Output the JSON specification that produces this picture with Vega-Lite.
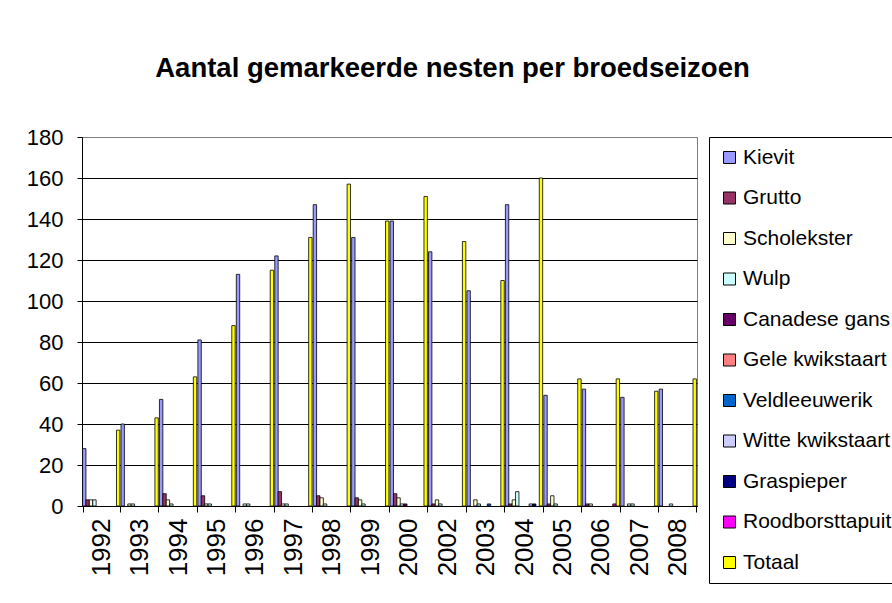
{
  "$schema": "https://vega.github.io/schema/vega-lite/v6.json",
  "autosize": {"type": "none"},
  "width": 615,
  "height": 369,
  "padding": {"left": 82, "top": 137, "right": 195, "bottom": 97},
  "background": "white",
  "title": {
    "text": "Aantal gemarkeerde nesten per broedseizoen",
    "font": "Liberation Sans",
    "fontSize": 27.5,
    "fontWeight": "bold",
    "color": "black",
    "anchor": "middle",
    "dx": 63,
    "offset": 44
  },
  "config": {
    "view": {"stroke": "#808080", "strokeWidth": 1},
    "font": "Liberation Sans"
  },
  "data": {
    "values": [
      {"jaar": "1992", "soort": "Kievit", "aantal": 28},
      {"jaar": "1992", "soort": "Grutto", "aantal": 3},
      {"jaar": "1992", "soort": "Scholekster", "aantal": 3},
      {"jaar": "1992", "soort": "Wulp", "aantal": 3},
      {"jaar": "1992", "soort": "Totaal", "aantal": 37},
      {"jaar": "1993", "soort": "Kievit", "aantal": 40},
      {"jaar": "1993", "soort": "Scholekster", "aantal": 1},
      {"jaar": "1993", "soort": "Wulp", "aantal": 1},
      {"jaar": "1993", "soort": "Totaal", "aantal": 43},
      {"jaar": "1994", "soort": "Kievit", "aantal": 52},
      {"jaar": "1994", "soort": "Grutto", "aantal": 6},
      {"jaar": "1994", "soort": "Scholekster", "aantal": 3},
      {"jaar": "1994", "soort": "Wulp", "aantal": 1},
      {"jaar": "1994", "soort": "Totaal", "aantal": 63},
      {"jaar": "1995", "soort": "Kievit", "aantal": 81},
      {"jaar": "1995", "soort": "Grutto", "aantal": 5},
      {"jaar": "1995", "soort": "Scholekster", "aantal": 1},
      {"jaar": "1995", "soort": "Wulp", "aantal": 1},
      {"jaar": "1995", "soort": "Totaal", "aantal": 88},
      {"jaar": "1996", "soort": "Kievit", "aantal": 113},
      {"jaar": "1996", "soort": "Scholekster", "aantal": 1},
      {"jaar": "1996", "soort": "Wulp", "aantal": 1},
      {"jaar": "1996", "soort": "Totaal", "aantal": 115},
      {"jaar": "1997", "soort": "Kievit", "aantal": 122},
      {"jaar": "1997", "soort": "Grutto", "aantal": 7},
      {"jaar": "1997", "soort": "Scholekster", "aantal": 1},
      {"jaar": "1997", "soort": "Wulp", "aantal": 1},
      {"jaar": "1997", "soort": "Totaal", "aantal": 131},
      {"jaar": "1998", "soort": "Kievit", "aantal": 147},
      {"jaar": "1998", "soort": "Grutto", "aantal": 5},
      {"jaar": "1998", "soort": "Scholekster", "aantal": 4},
      {"jaar": "1998", "soort": "Wulp", "aantal": 1},
      {"jaar": "1998", "soort": "Totaal", "aantal": 157},
      {"jaar": "1999", "soort": "Kievit", "aantal": 131},
      {"jaar": "1999", "soort": "Grutto", "aantal": 4},
      {"jaar": "1999", "soort": "Scholekster", "aantal": 3},
      {"jaar": "1999", "soort": "Wulp", "aantal": 1},
      {"jaar": "1999", "soort": "Totaal", "aantal": 139},
      {"jaar": "2000", "soort": "Kievit", "aantal": 139},
      {"jaar": "2000", "soort": "Grutto", "aantal": 6},
      {"jaar": "2000", "soort": "Scholekster", "aantal": 4},
      {"jaar": "2000", "soort": "Wulp", "aantal": 1},
      {"jaar": "2000", "soort": "Canadese gans", "aantal": 1},
      {"jaar": "2000", "soort": "Totaal", "aantal": 151},
      {"jaar": "2002", "soort": "Kievit", "aantal": 124},
      {"jaar": "2002", "soort": "Grutto", "aantal": 1},
      {"jaar": "2002", "soort": "Scholekster", "aantal": 3},
      {"jaar": "2002", "soort": "Wulp", "aantal": 1},
      {"jaar": "2002", "soort": "Totaal", "aantal": 129},
      {"jaar": "2003", "soort": "Kievit", "aantal": 105},
      {"jaar": "2003", "soort": "Scholekster", "aantal": 3},
      {"jaar": "2003", "soort": "Wulp", "aantal": 1},
      {"jaar": "2003", "soort": "Veldleeuwerik", "aantal": 1},
      {"jaar": "2003", "soort": "Totaal", "aantal": 110},
      {"jaar": "2004", "soort": "Kievit", "aantal": 147},
      {"jaar": "2004", "soort": "Grutto", "aantal": 1},
      {"jaar": "2004", "soort": "Scholekster", "aantal": 3},
      {"jaar": "2004", "soort": "Wulp", "aantal": 7},
      {"jaar": "2004", "soort": "Witte kwikstaart", "aantal": 1},
      {"jaar": "2004", "soort": "Graspieper", "aantal": 1},
      {"jaar": "2004", "soort": "Totaal", "aantal": 160},
      {"jaar": "2005", "soort": "Kievit", "aantal": 54},
      {"jaar": "2005", "soort": "Grutto", "aantal": 1},
      {"jaar": "2005", "soort": "Scholekster", "aantal": 5},
      {"jaar": "2005", "soort": "Wulp", "aantal": 1},
      {"jaar": "2005", "soort": "Totaal", "aantal": 62},
      {"jaar": "2006", "soort": "Kievit", "aantal": 57},
      {"jaar": "2006", "soort": "Grutto", "aantal": 1},
      {"jaar": "2006", "soort": "Scholekster", "aantal": 1},
      {"jaar": "2006", "soort": "Roodborsttapuit", "aantal": 1},
      {"jaar": "2006", "soort": "Totaal", "aantal": 62},
      {"jaar": "2007", "soort": "Kievit", "aantal": 53},
      {"jaar": "2007", "soort": "Scholekster", "aantal": 1},
      {"jaar": "2007", "soort": "Wulp", "aantal": 1},
      {"jaar": "2007", "soort": "Totaal", "aantal": 56},
      {"jaar": "2008", "soort": "Kievit", "aantal": 57},
      {"jaar": "2008", "soort": "Wulp", "aantal": 1},
      {"jaar": "2008", "soort": "Totaal", "aantal": 62}
    ]
  },
  "mark": {"type": "bar", "stroke": "black", "strokeWidth": 0.8},
  "encoding": {
    "x": {
      "field": "jaar",
      "type": "nominal",
      "scale": {
        "domain": ["1992","1993","1994","1995","1996","1997","1998","1999","2000","2002","2003","2004","2005","2006","2007","2008"],
        "paddingInner": 0.03,
        "paddingOuter": 0.015
      },
      "axis": {
        "title": null,
        "labelAngle": 270,
        "labelFontSize": 26,
        "labelColor": "black",
        "labelFont": "Liberation Sans",
        "labelPadding": 6,
        "tickSize": 6,
        "tickColor": "black",
        "tickBand": "extent",
        "domainColor": "black",
        "grid": false
      }
    },
    "xOffset": {
      "field": "soort",
      "type": "nominal",
      "scale": {
        "domain": ["Kievit","Grutto","Scholekster","Wulp","Canadese gans","Gele kwikstaart","Veldleeuwerik","Witte kwikstaart","Graspieper","Roodborsttapuit","Totaal"],
        "paddingInner": 0,
        "paddingOuter": 0
      }
    },
    "y": {
      "field": "aantal",
      "type": "quantitative",
      "scale": {"domain": [0, 180], "nice": false},
      "axis": {
        "title": null,
        "values": [0,20,40,60,80,100,120,140,160,180],
        "labelFontSize": 22,
        "labelColor": "black",
        "labelFont": "Liberation Sans",
        "labelPadding": 14,
        "tickSize": 5,
        "tickColor": "black",
        "domainColor": "black",
        "grid": true,
        "gridColor": {"condition": {"test": "datum.value === 180", "value": "#808080"}, "value": "black"},
        "gridWidth": 1
      }
    },
    "color": {
      "field": "soort",
      "type": "nominal",
      "scale": {
        "domain": ["Kievit","Grutto","Scholekster","Wulp","Canadese gans","Gele kwikstaart","Veldleeuwerik","Witte kwikstaart","Graspieper","Roodborsttapuit","Totaal"],
        "range": ["#9999FF","#993366","#FFFFCC","#CCFFFF","#660066","#FF8080","#0066CC","#CCCCFF","#000080","#FF00FF","#FFFF00"]
      },
      "legend": {
        "title": null,
        "orient": "none",
        "legendX": 627,
        "legendY": 0,
        "padding": 10,
        "strokeColor": "black",
        "fillColor": "white",
        "labelFontSize": 21,
        "labelFont": "Liberation Sans",
        "labelColor": "black",
        "labelLimit": 300,
        "symbolType": "square",
        "symbolSize": 144,
        "symbolStrokeColor": "black",
        "symbolStrokeWidth": 1,
        "rowPadding": 18.5,
        "labelOffset": 3
      }
    }
  }
}
